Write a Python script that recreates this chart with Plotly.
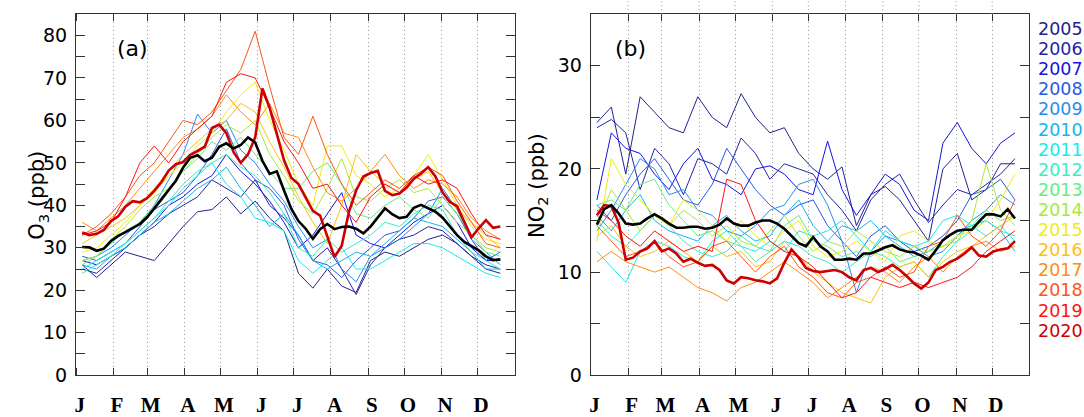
import plotly.graph_objects as go

# ---------------- data ----------------
MONTHS = ["J", "F", "M", "A", "M", "J", "J", "A", "S", "O", "N", "D"]
MONTH_STARTS = [0, 31, 59, 90, 120, 151, 181, 212, 243, 273, 304, 334]
MONTH_LABEL_POS = [3, 34, 62, 93, 123, 154, 184, 215, 246, 276, 307, 337]

YEARS = ["2005", "2006", "2007", "2008", "2009", "2010", "2011", "2012",
         "2013", "2014", "2015", "2016", "2017", "2018", "2019", "2020"]
COLORS = ["#22228a", "#2424a8", "#1414e0", "#2a58e8", "#2a8cf0", "#14b4f0",
          "#14ecec", "#3cecc0", "#64ec84", "#a8e83c", "#f0ec10", "#ffc010",
          "#ff8c10", "#ff5414", "#ff1414", "#cc0000"]

DAYS = [5, 17, 29, 41, 53, 65, 77, 89, 101, 113, 125, 137, 149, 161, 173,
        185, 197, 209, 221, 233, 245, 257, 269, 281, 293, 305, 317, 329, 341, 353]
DAYS_FINE = [5, 11, 17, 23, 29, 35, 41, 47, 53, 59, 65, 71, 77, 83, 89, 95, 101,
             107, 113, 119, 125, 131, 137, 143, 149, 155, 161, 167, 173, 179, 185,
             191, 197, 203, 209, 215, 221, 227, 233, 239, 245, 251, 257, 263, 269,
             275, 281, 287, 293, 299, 305, 311, 317, 323, 329, 335, 341, 347, 353]

# O3 (ppb), panel (a)
O3_2005 = [26, 23, 26, 29, 28, 27, 31, 35, 38.5, 39, 42, 38, 41, 37, 34, 24, 20.5, 25, 21, 19.5, 27, 29, 28, 30, 32, 33, 31, 28, 25, 24]
O3_2006 = [25, 24, 27, 30, 33, 35, 38, 40, 42, 46, 44, 42, 46, 40, 37, 33, 27, 30, 25, 19, 26, 30, 32, 33, 35, 34, 31, 28, 26, 25]
O3_2007 = [27, 26, 28, 30, 33, 36, 40, 42, 45, 47, 52, 48, 45, 41, 36, 30, 33, 38, 43, 33, 31, 30, 33, 36, 38, 40, 36, 30, 27, 27]
O3_2008 = [28, 27, 29, 31, 35, 39, 41, 43, 47, 52, 58, 50, 46, 44, 40, 32, 27, 26, 23, 27, 30, 33, 34, 37, 41, 42, 38, 32, 27, 29]
O3_2009 = [27, 28, 30, 33, 36, 40, 46, 52, 61.5, 57, 60, 53, 50, 45, 41, 35, 30, 32, 25, 22, 28, 30, 32, 35, 38, 44, 39, 32, 29, 26]
O3_2010 = [26, 25, 28, 30, 33, 36, 38, 41, 44, 46, 49, 44, 40, 35, 38, 33, 27, 25, 27, 29, 28, 31, 34, 37, 36, 35, 32, 29, 25, 25]
O3_2011 = [25, 27, 29, 31, 34, 37, 40, 44, 47, 50, 45, 42, 37, 36, 34, 27, 24, 27, 30, 25, 25, 27, 29, 31, 31, 30, 28, 26, 24, 23]
O3_2012 = [24, 26, 28, 31, 34, 37, 41, 45, 48, 50, 52, 49, 47, 43, 38, 30, 28, 32, 29, 31, 33, 36, 35, 38, 40, 39, 33, 29, 27, 25]
O3_2013 = [26, 28, 31, 34, 36, 40, 44, 48, 51, 55, 53, 56, 52, 48, 44, 44, 48, 50, 45, 38, 37, 40, 42, 39, 37, 42, 38, 33, 29, 28]
O3_2014 = [27, 28, 32, 35, 39, 42, 44, 48, 52, 56, 59, 57, 60, 52, 47, 41, 38, 44, 51, 42, 41, 44, 46, 43, 44, 40, 36, 33, 30, 29]
O3_2015 = [29, 30, 33, 36, 40, 43, 47, 50, 54, 57, 62, 66, 69, 60, 53, 45, 40, 54, 54, 47, 45, 42, 44, 47, 52, 46, 40, 35, 32, 31]
O3_2016 = [31, 33, 35, 37, 40, 44, 48, 52, 55, 58, 60, 64, 62, 55, 49, 42, 36, 31, 40, 52, 48, 45, 43, 46, 48, 43, 39, 36, 33, 30]
O3_2017 = [36, 34, 37, 40, 44, 48, 52, 56, 58, 61, 66, 62, 59, 64, 57, 56, 49, 43, 41, 44, 48, 52, 47, 44, 46, 45, 42, 37, 34, 32]
O3_2018 = [33, 35, 38, 42, 47, 50, 55, 60, 59, 62, 67, 72, 81, 68, 56, 52, 61, 52, 45, 40, 43, 46, 44, 47, 49, 47, 41, 36, 31, 30]
O3_2019 = [33, 34, 36, 42, 50, 54, 50, 55, 58, 61, 69, 71, 70, 63, 55, 50, 44, 45, 40, 36, 42, 45, 43, 47, 45, 46, 44, 38, 33, 32]
O3_2020 = [33.6, 33.0, 33.3, 34.2, 36.3, 37.4, 39.7, 41.0, 40.7, 41.7,
           43.4, 45.5, 48.2, 49.7, 50.2, 51.9, 52.8, 53.8, 58.2, 59.0,
           57.0, 52.5, 50.0, 52.0, 56.0, 67.5, 63.0, 56.5, 50.6, 46.5,
           45.0, 41.8, 38.7, 37.6, 32.5, 27.8, 30.5, 38.5, 43.5, 46.8,
           47.6, 48.1, 43.4, 42.4, 42.8, 44.2, 46.3, 47.5, 49.0, 46.8,
           43.0, 40.8, 39.8, 36.0, 32.5, 34.6, 36.5, 34.7, 35.0]
O3_MEAN = [30.2, 30.1, 29.3, 29.8, 31.6, 32.8, 33.7, 34.6, 35.6, 37.2,
           39.2, 41.4, 43.6, 45.8, 48.9, 51.2, 51.8, 50.4, 51.2, 53.8,
           54.6, 53.4, 54.2, 56.0, 54.8, 50.5, 47.4, 48.0, 43.5, 39.2,
           36.3, 34.5, 32.1, 34.4, 35.6, 34.4, 34.9, 35.0, 34.5, 33.4,
           35.0, 37.3, 39.3, 37.9, 37.0, 37.3, 39.4, 40.1, 39.3, 38.5,
           37.1, 35.1, 33.0, 31.4, 30.3, 29.4, 28.0, 27.1, 27.3]

# NO2 (ppb), panel (b)
NO2_2005 = [24.5, 26.0, 19.5, 27.0, 25.5, 24.0, 23.5, 27.0, 25.0, 24.0, 27.3, 25.0, 23.5, 24.0, 21.5, 20.0, 19.0, 20.2, 14.5, 17.5, 18.3, 17.0, 15.0, 13.0, 20.0, 21.5, 17.0, 18.0, 20.5, 20.5]
NO2_2006 = [24.0, 24.8, 23.5, 18.0, 22.0, 20.5, 17.5, 21.0, 20.5, 19.5, 23.0, 21.5, 19.0, 20.5, 20.0, 19.5, 17.5, 16.0, 14.0, 17.0, 18.5, 19.5, 17.0, 14.8, 16.5, 18.0, 17.5, 18.5, 19.5, 21.0]
NO2_2007 = [17.0, 23.5, 22.0, 21.5, 19.5, 18.0, 20.5, 22.0, 19.0, 18.5, 17.5, 20.0, 20.3, 19.5, 18.0, 17.5, 22.7, 18.0, 15.5, 17.5, 19.5, 18.5, 16.0, 15.0, 22.5, 24.5, 22.0, 20.5, 22.5, 23.5]
NO2_2008 = [16.5, 15.0, 17.5, 19.5, 21.0, 19.0, 17.0, 16.5, 18.5, 22.0, 20.0, 18.0, 16.5, 15.5, 16.5, 17.0, 14.5, 13.0, 11.5, 13.5, 14.5, 13.0, 12.0, 12.5, 13.5, 15.0, 17.5, 18.0, 19.0, 17.0]
NO2_2009 = [14.0, 16.0, 18.5, 21.0, 20.0, 17.5, 18.0, 16.0, 15.5, 14.0, 13.5, 14.5, 16.0, 16.5, 18.5, 19.0, 16.5, 13.0, 8.0, 12.0, 13.5, 13.0, 12.5, 11.5, 12.0, 13.5, 15.0, 16.0, 17.5, 16.5]
NO2_2010 = [15.5, 14.0, 16.0, 17.5, 15.0, 14.0, 13.5, 13.0, 14.5, 15.5, 14.0, 13.0, 13.5, 15.5, 17.0, 14.5, 13.0, 14.5, 14.0, 15.0, 13.5, 12.5, 11.5, 12.0, 13.0, 14.0, 14.5, 15.0, 14.0, 12.0]
NO2_2011 = [12.0, 10.5, 9.0, 12.0, 13.0, 12.5, 11.5, 11.0, 13.0, 14.0, 12.5, 12.0, 13.0, 12.0, 14.0, 13.5, 14.0, 15.0, 13.5, 12.0, 14.0, 13.0, 12.5, 13.0, 15.0, 15.5, 14.5, 13.5, 14.5, 13.0]
NO2_2012 = [15.0, 13.5, 12.5, 14.0, 15.5, 14.5, 13.0, 12.0, 11.5, 12.0, 13.5, 12.5, 12.0, 13.0, 12.5, 11.5, 11.0, 10.0, 11.0, 12.0, 11.5, 10.5, 11.0, 9.5, 11.5, 13.0, 14.0, 15.0, 14.0, 13.5]
NO2_2013 = [16.5, 17.0, 16.0, 18.5, 19.0, 16.5, 15.0, 13.5, 14.0, 13.0, 12.5, 11.0, 12.0, 14.5, 15.5, 13.0, 12.5, 11.5, 12.0, 11.5, 12.5, 11.0, 11.5, 12.0, 12.5, 13.5, 14.5, 16.0, 15.0, 15.5]
NO2_2014 = [14.5, 18.0, 16.0, 14.0, 15.5, 14.5, 16.0, 15.0, 13.5, 14.5, 13.0, 12.5, 14.0, 15.5, 13.5, 12.0, 13.0, 12.5, 14.0, 13.0, 12.0, 11.5, 12.5, 12.0, 12.5, 13.0, 15.0, 20.5, 16.0, 14.5]
NO2_2015 = [13.0, 21.0, 18.5, 17.0, 15.5, 14.5, 17.0, 16.0, 14.5, 13.0, 15.0, 13.5, 12.5, 14.0, 15.0, 12.5, 11.5, 12.0, 13.0, 12.0, 11.0, 13.5, 14.0, 13.0, 12.5, 13.5, 14.0, 15.0, 17.0, 19.5]
NO2_2016 = [13.5, 14.5, 12.5, 11.5, 12.0, 13.0, 12.0, 11.0, 12.5, 11.5, 12.0, 10.5, 11.0, 13.0, 11.5, 10.0, 9.0, 8.0, 7.5, 7.0, 9.5, 10.5, 11.0, 9.5, 11.0, 12.0, 12.5, 13.5, 14.5, 15.5]
NO2_2017 = [11.0, 12.0, 11.0, 10.5, 10.0, 10.5, 9.5, 8.5, 8.0, 7.2, 8.5, 9.0, 10.0, 11.0, 10.0, 9.0, 7.5, 8.5, 9.5, 10.5, 10.0, 9.0, 10.5, 11.5, 10.0, 11.5, 12.5, 13.0, 12.0, 12.5]
NO2_2018 = [14.5, 13.0, 11.5, 12.0, 13.0, 11.5, 10.5, 11.0, 12.5, 13.0, 11.5, 10.0, 11.5, 12.5, 10.5, 9.5, 8.0, 7.5, 9.0, 9.5, 10.5, 9.5, 10.0, 12.5, 13.0, 15.5, 13.5, 12.5, 14.0, 17.0]
NO2_2019 = [16.0, 15.0, 13.5, 12.5, 14.0, 13.0, 12.0, 12.5, 12.0, 19.0, 18.5, 15.0, 13.0, 12.0, 11.5, 10.5, 9.0, 7.5, 8.0, 9.5, 9.0, 8.5, 9.0, 8.5, 9.0, 9.5, 10.5, 12.0, 13.0, 14.0]
NO2_2020 = [15.5, 16.5, 16.4, 14.8, 11.2, 11.4, 12.0, 12.3, 13.0, 12.0,
            12.3, 11.8, 11.0, 11.3, 10.9, 10.6, 10.7, 10.2, 9.2, 8.9,
            9.5, 9.4, 9.2, 9.1, 8.9, 9.4, 10.9, 12.2, 11.4, 10.4,
            10.1, 10.0, 10.1, 10.2, 10.0, 9.5, 9.2, 10.2, 10.4, 10.0,
            10.3, 10.7, 10.2, 9.6, 8.9, 8.4, 9.0, 10.2, 10.5, 11.0,
            11.3, 11.8, 12.4, 11.6, 11.5, 12.0, 12.2, 12.3, 13.0]
NO2_MEAN = [14.6, 16.1, 16.5, 15.7, 14.7, 14.6, 14.7, 15.2, 15.6, 15.2,
            14.7, 14.3, 14.3, 14.4, 14.4, 14.2, 14.3, 14.6, 15.2, 14.7,
            14.5, 14.5, 14.8, 15.0, 15.0, 14.7, 14.2, 13.5, 12.8, 12.5,
            13.4, 12.5, 12.0, 11.2, 11.2, 11.3, 11.2, 11.8, 11.8, 12.1,
            12.4, 12.6, 12.2, 12.0, 11.9, 11.6, 11.2, 12.1, 13.1, 13.6,
            14.0, 14.1, 14.1, 14.9, 15.6, 15.6, 15.4, 16.1, 15.2]

O3_THIN = [O3_2005, O3_2006, O3_2007, O3_2008, O3_2009, O3_2010, O3_2011, O3_2012,
           O3_2013, O3_2014, O3_2015, O3_2016, O3_2017, O3_2018, O3_2019]
NO2_THIN = [NO2_2005, NO2_2006, NO2_2007, NO2_2008, NO2_2009, NO2_2010, NO2_2011, NO2_2012,
            NO2_2013, NO2_2014, NO2_2015, NO2_2016, NO2_2017, NO2_2018, NO2_2019]

# ---------------- figure ----------------
W, H = 1084, 417
fig = go.Figure()

for (xa, ya, thin, red, mean) in [("x", "y", O3_THIN, O3_2020, O3_MEAN),
                                  ("x2", "y2", NO2_THIN, NO2_2020, NO2_MEAN)]:
    for yr, col, vals in zip(YEARS[:15], COLORS[:15], thin):
        fig.add_trace(go.Scatter(x=DAYS, y=vals, mode="lines", name=yr,
                                 line=dict(color=col, width=1.0),
                                 xaxis=xa, yaxis=ya, showlegend=False))
    fig.add_trace(go.Scatter(x=DAYS_FINE, y=red, mode="lines", name="2020",
                             line=dict(color=COLORS[15], width=2.6),
                             xaxis=xa, yaxis=ya, showlegend=False))
    fig.add_trace(go.Scatter(x=DAYS_FINE, y=mean, mode="lines", name="mean",
                             line=dict(color="black", width=2.6),
                             xaxis=xa, yaxis=ya, showlegend=False))

ydom = [1 - 387.3 / H, 1 - 14.7 / H]
axis_line = dict(showline=True, linecolor="#333", linewidth=1.3, mirror="allticks",
                 zeroline=False, showgrid=False)
GRID_DASH = "1px,3px"

def xaxis_cfg(domain, anchor):
    return dict(domain=domain, range=[0, 365], anchor=anchor,
                tickmode="array", tickvals=MONTH_LABEL_POS, ticktext=MONTHS,
                ticks="", ticklabelstandoff=10,
                tickfont=dict(family="Liberation Serif", size=21, color="black", weight="bold"),
                minor=dict(tickmode="array", tickvals=MONTH_STARTS, ticks="inside",
                           ticklen=7, tickcolor="#333", tickwidth=1,
                           showgrid=True, gridcolor="#999999", griddash=GRID_DASH, gridwidth=1),
                **axis_line)

def yaxis_cfg(rng, major, minor, anchor):
    return dict(domain=ydom, range=rng, anchor=anchor,
                tickmode="array", tickvals=major, ticks="inside", ticklen=9,
                tickcolor="#333", tickwidth=1, ticklabelstandoff=4,
                tickfont=dict(family="DejaVu Sans", size=19, color="black"),
                minor=dict(tickmode="array", tickvals=minor, ticks="inside",
                           ticklen=9, tickcolor="#333", tickwidth=1, showgrid=False),
                **axis_line)

fig.update_layout(
    width=W, height=H, margin=dict(l=0, r=0, t=0, b=0),
    paper_bgcolor="white", plot_bgcolor="white", showlegend=False,
    xaxis=xaxis_cfg([74.3 / W, 513.7 / W], "y"),
    xaxis2=xaxis_cfg([590 / W, 1029.3 / W], "y2"),
    yaxis=yaxis_cfg([0, 85], [0, 10, 20, 30, 40, 50, 60, 70, 80],
                    [5, 15, 25, 35, 45, 55, 65, 75], "x"),
    yaxis2=yaxis_cfg([0, 35], [0, 10, 20, 30], [5, 15, 25], "x2"),
)

# dotted month lines extending above panel (b)
for m in MONTH_STARTS[1:]:
    fig.add_shape(type="line", xref="x2", yref="paper", x0=m, x1=m,
                  y0=ydom[1], y1=1.0, line=dict(color="#999999", width=1, dash=GRID_DASH))

ann = []
ann.append(dict(text="(a)", x=113 / W, y=1 - 35 / H, xref="paper", yref="paper",
                showarrow=False, font=dict(family="DejaVu Sans", size=22, color="black")))
ann.append(dict(text="(b)", x=630 / W, y=1 - 35 / H, xref="paper", yref="paper",
                showarrow=False, font=dict(family="DejaVu Sans", size=22, color="black")))
ann.append(dict(text="O<sub>3</sub> (ppb)", x=21 / W, y=1 - 201 / H, xref="paper", yref="paper",
                textangle=-90, showarrow=False,
                font=dict(family="DejaVu Sans", size=21, color="black")))
ann.append(dict(text="NO<sub>2</sub> (ppb)", x=537 / W, y=1 - 192 / H, xref="paper", yref="paper",
                textangle=-90, showarrow=False,
                font=dict(family="DejaVu Sans", size=21, color="black")))
for i, (yr, col) in enumerate(zip(YEARS, COLORS)):
    ann.append(dict(text=yr, x=1036 / W, y=1 - (30 + i * 20.75) / H, xref="paper", yref="paper",
                    xanchor="left", yanchor="middle", showarrow=False,
                    font=dict(family="DejaVu Sans", size=17.5, color=col)))
fig.update_layout(annotations=ann)

fig.write_html("out.html", config={"displayModeBar": False},
               post_script="document.body.style.margin='0';document.body.style.overflow='hidden';")
